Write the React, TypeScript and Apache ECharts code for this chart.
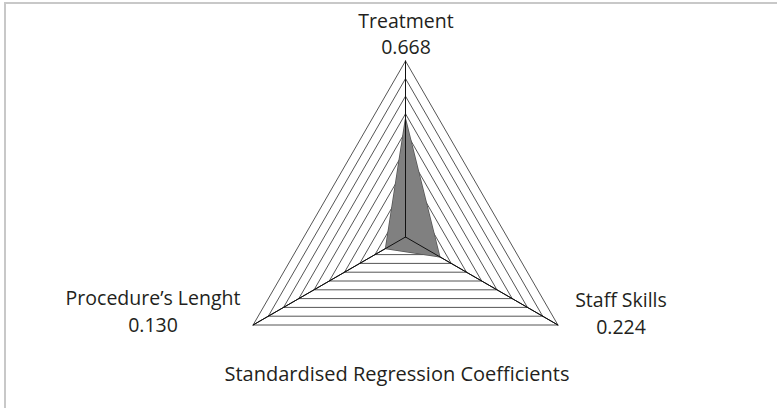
import React, { useEffect, useRef } from "react";
import * as echarts from "echarts";

const categories = ["Treatment", "Procedure\u2019s Lenght", "Staff Skills"];
const values = [0.668, 0.13, 0.224];
const valueLabels = ["0.668", "0.130", "0.224"];
const axisMax = 1;
const title = "Standardised Regression Coefficients";

const FONT = "'Open Sans', sans-serif";

export default function App() {
  const ref = useRef<HTMLDivElement>(null);
  useEffect(() => {
    if (!ref.current) return;
    const chart = echarts.init(ref.current, undefined, { renderer: "svg" });
    const indicator = categories.map((c) => ({ name: c, max: axisMax, min: 0 }));
    const cx = 405.5;
    const cy = 237;
    const r = 176;
    const lineGap = 26.5;
    const labelMid = [
      { x: 406, y: 33.5 },
      { x: 153, y: 311 },
      { x: 621, y: 313 },
    ];
    const radarBase = {
      center: [cx, cy],
      radius: r,
      startAngle: 90,
      shape: "polygon",
      splitNumber: 10,
      indicator,
      axisName: { show: false },
      splitArea: { show: false },
      axisLine: { lineStyle: { color: "#111", width: 1 } },
    };
    const textStyle = {
      fontSize: 19.5,
      fontFamily: FONT,
      fill: "#231f20",
      align: "center",
      verticalAlign: "middle",
    };
    chart.setOption({
      animation: false,
      radar: [
        {
          ...radarBase,
          z: 1,
          splitLine: { lineStyle: { color: "#2a2a2a", width: 0.8 } },
        },
        {
          ...radarBase,
          z: 3,
          splitLine: { show: false },
        },
      ],
      series: [
        {
          type: "radar",
          radarIndex: 0,
          z: 2,
          symbol: "none",
          data: [{ value: values, name: title }],
          lineStyle: { color: "#555", width: 1.5 },
          areaStyle: { color: "#808080", opacity: 1 },
        },
      ],
      graphic: [
        {
          type: "rect",
          shape: { x: 5, y: 3, width: 900, height: 600 },
          style: { fill: "none", stroke: "#c8c8c8", lineWidth: 2 },
          silent: true,
        },
        ...categories.map((c, i) => ({
          type: "text",
          x: labelMid[i].x,
          y: labelMid[i].y - lineGap / 2,
          style: { ...textStyle, text: c },
        })),
        ...valueLabels.map((v, i) => ({
          type: "text",
          x: labelMid[i].x,
          y: labelMid[i].y + lineGap / 2,
          style: { ...textStyle, text: v },
        })),
        {
          type: "text",
          x: 397,
          y: 373,
          style: { ...textStyle, fontSize: 20, text: title },
        },
      ],
    });
    return () => chart.dispose();
  }, []);
  return (
    <div
      ref={ref}
      style={{ position: "fixed", left: 0, top: 0, width: 777, height: 408, background: "#fff" }}
    />
  );
}
